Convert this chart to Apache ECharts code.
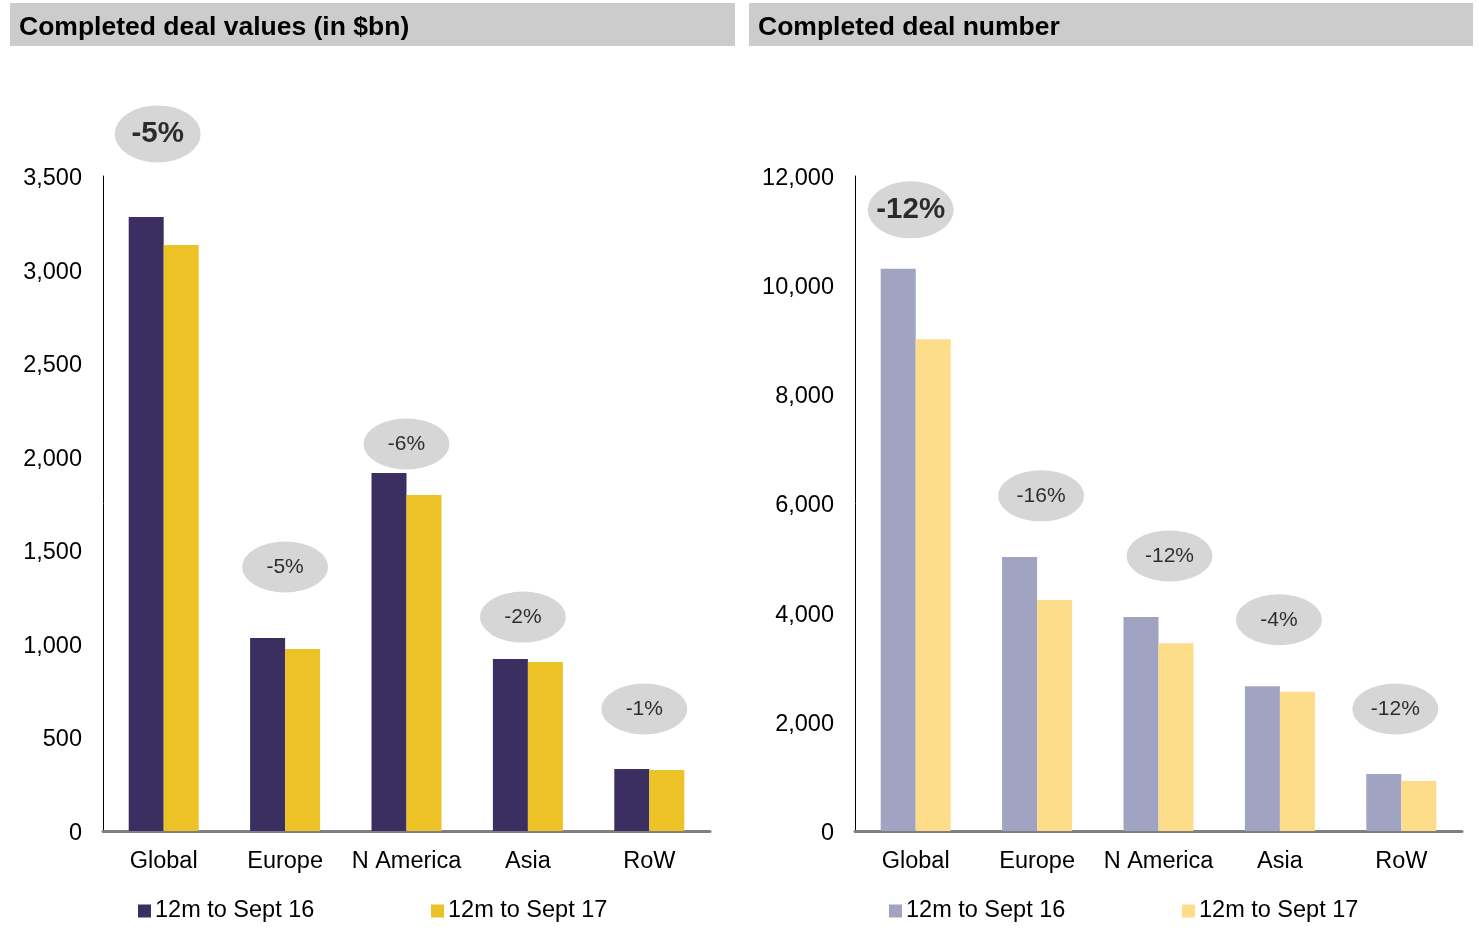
<!DOCTYPE html>
<html>
<head>
<meta charset="utf-8">
<script src="https://cdn.jsdelivr.net/npm/echarts@6/dist/echarts.min.js"></script>
<style>
html,body{margin:0;padding:0;background:#fff;}
#chart{width:1479px;height:930px;}
</style>
</head>
<body>
<div id="chart"></div>
<script>
// ---- data ----
var categories = ['Global', 'Europe', 'N America', 'Asia', 'RoW'];
var seriesNames = ['12m to Sept 16', '12m to Sept 17'];

var valueS16 = [3281, 1031, 1913, 919, 331];
var valueS17 = [3131, 972, 1795, 903, 326];
var valueChange = ['-5%', '-5%', '-6%', '-2%', '-1%'];
var valueBubbleLevel = [3725, 1411, 2068, 1143, 652];

var numberS16 = [10300, 5020, 3920, 2650, 1045];
var numberS17 = [9010, 4230, 3440, 2550, 915];
var numberChange = ['-12%', '-16%', '-12%', '-4%', '-12%'];
var numberBubbleLevel = [11380, 6140, 5040, 3870, 2235];

var valueTicks = { min: 0, max: 3500, interval: 500 };
var numberTicks = { min: 0, max: 12000, interval: 2000 };

// ---- styles / layout ----
var FONT = '"Liberation Sans", Arial, sans-serif';
var C = {
  dark16: '#3b2e61', dark17: '#edc227',
  light16: '#a0a3c1', light17: '#fedd8a',
  bubble: '#cccccc', header: '#cccccc', xAxis: '#808080'
};
var ELLIPSE = 'path://M0 50 A50 50 0 1 1 100 50 A50 50 0 1 1 0 50 Z';
// small horizontal nudges of the callout ellipses (px), as placed in the original
var valueBubbleNudge = [-6, 0, 0, -5, -5];
var numberBubbleNudge = [-5, 4, 11, -1, -6];

function fmtNum(v) { return v.toLocaleString('en-US'); }

function bubbleData(levels, labels, nudge) {
  return levels.map(function (v, i) {
    var big = i === 0;
    return {
      value: [categories[i], v],
      symbolSize: big ? [86, 57] : [86, 51],
      symbolOffset: [nudge[i], 0],
      label: {
        show: true, position: 'inside', formatter: labels[i],
        fontFamily: FONT, color: '#000', textBorderWidth: 0, textBorderColor: 'transparent',
        fontSize: big ? 29.5 : 21, fontWeight: big ? 'bold' : 'normal'
      }
    };
  });
}

var chart = echarts.init(document.getElementById('chart'), null, { renderer: 'canvas' });

var AXIS_FONT = 23.5;

function yAxisCfg(gridIndex, t) {
  return {
    type: 'value', gridIndex: gridIndex, min: t.min, max: t.max, interval: t.interval,
    axisLine: { show: true, lineStyle: { color: '#000', width: 1 } },
    axisTick: { show: false },
    splitLine: { show: false },
    axisLabel: { fontFamily: FONT, fontSize: AXIS_FONT, color: '#000', margin: 21,
      verticalAlign: 'top', lineHeight: 5, formatter: fmtNum }
  };
}
function xAxisCfg(gridIndex) {
  return {
    type: 'category', gridIndex: gridIndex, data: categories,
    axisLine: { show: true, lineStyle: { color: C.xAxis, width: 3 } },
    axisTick: { show: false },
    axisLabel: { fontFamily: FONT, fontSize: AXIS_FONT, color: '#000', margin: 19, interval: 0 }
  };
}
function barSeries(name, idx, data, color) {
  return {
    type: 'bar', name: name, xAxisIndex: idx, yAxisIndex: idx, data: data,
    barWidth: 35, barGap: '0%', itemStyle: { color: color }, z: 2
  };
}
function legendCfg(name, left) {
  return {
    data: [name], left: left, top: 899, icon: 'rect', itemWidth: 13, itemHeight: 13,
    itemGap: 6, selectedMode: false, padding: 0,
    formatter: function (n) { return n.replace(/^[LR] /, ''); },
    textStyle: { fontFamily: FONT, fontSize: AXIS_FONT, color: '#000', padding: [0, 0, 0, -1] }
  };
}

var option = {
  animation: false,
  backgroundColor: '#fff',
  graphic: [
    { type: 'rect', left: 10, top: 3, shape: { width: 725, height: 43 }, style: { fill: C.header } },
    { type: 'rect', left: 749, top: 3, shape: { width: 724, height: 43 }, style: { fill: C.header } },
    { type: 'text', left: 19, top: 14, style: { text: 'Completed deal values (in $bn)', font: 'bold 26.5px ' + FONT, fill: '#000' } },
    { type: 'text', left: 758, top: 14, style: { text: 'Completed deal number', font: 'bold 26.5px ' + FONT, fill: '#000' } }
  ],
  grid: [
    { left: 103, right: 769, top: 176, bottom: 99 },
    { left: 855, right: 17, top: 176, bottom: 99 }
  ],
  xAxis: [xAxisCfg(0), xAxisCfg(1)],
  yAxis: [yAxisCfg(0, valueTicks), yAxisCfg(1, numberTicks)],
  legend: [
    legendCfg('L ' + seriesNames[0], 138),
    legendCfg('L ' + seriesNames[1], 431),
    legendCfg('R ' + seriesNames[0], 889),
    legendCfg('R ' + seriesNames[1], 1182)
  ],
  series: [
    barSeries('L ' + seriesNames[0], 0, valueS16, C.dark16),
    barSeries('L ' + seriesNames[1], 0, valueS17, C.dark17),
    barSeries('R ' + seriesNames[0], 1, numberS16, C.light16),
    barSeries('R ' + seriesNames[1], 1, numberS17, C.light17),
    {
      type: 'scatter', xAxisIndex: 0, yAxisIndex: 0, clip: false, symbol: ELLIPSE,
      itemStyle: { color: C.bubble }, data: bubbleData(valueBubbleLevel, valueChange, valueBubbleNudge), z: 3, silent: true
    },
    {
      type: 'scatter', xAxisIndex: 1, yAxisIndex: 1, clip: false, symbol: ELLIPSE,
      itemStyle: { color: C.bubble }, data: bubbleData(numberBubbleLevel, numberChange, numberBubbleNudge), z: 3, silent: true
    }
  ]
};
chart.setOption(option);
</script>
</body>
</html>
